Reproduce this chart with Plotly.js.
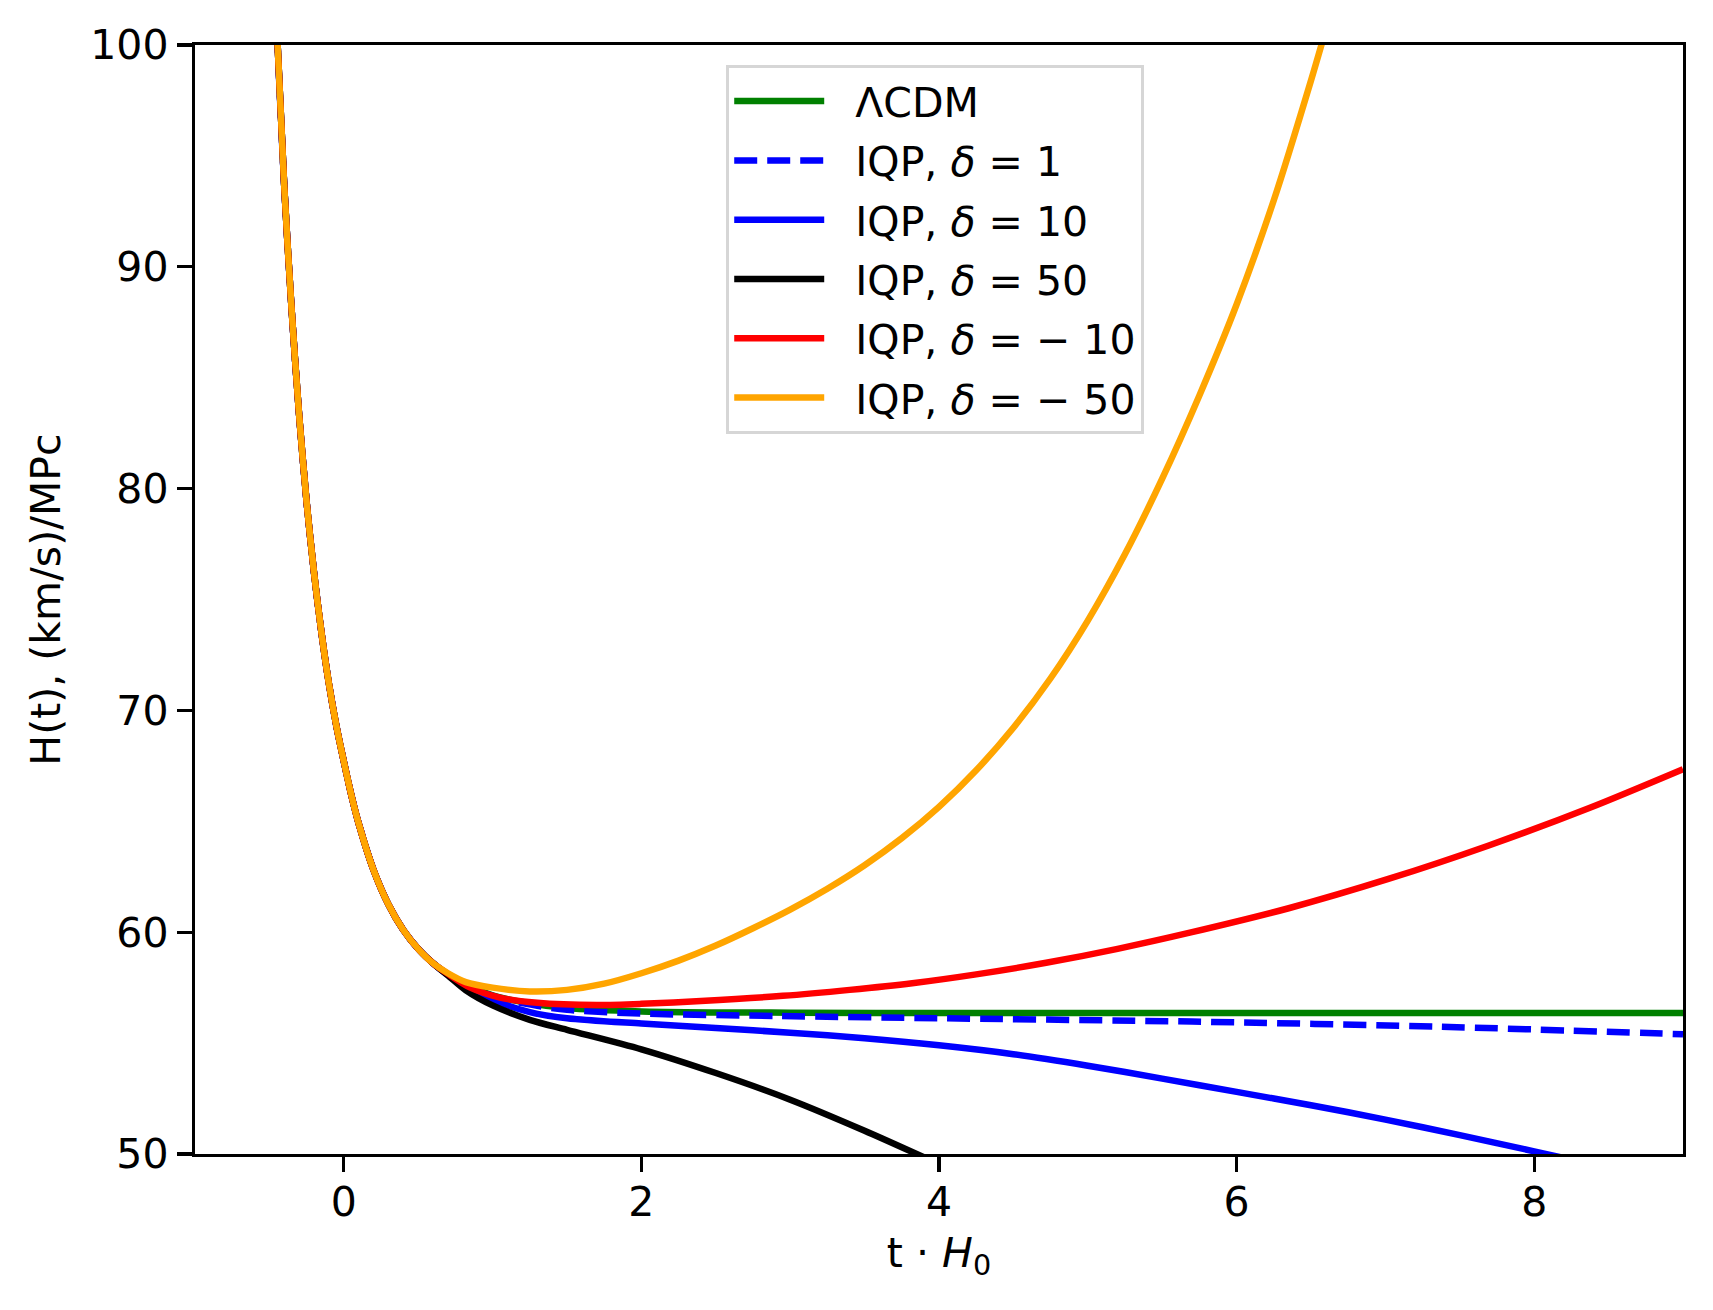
<!DOCTYPE html>
<html>
<head>
<meta charset="utf-8">
<script src="https://cdn.plot.ly/plotly-3.0.1.min.js"></script>
<style>
  body { margin: 0; background: white; }
  #plot { width: 1713px; height: 1310px; }
</style>
</head>
<body>
<div id="plot"></div>
<script>
// early common branch (all models overlap here)
const tEarly = [-0.46, -0.40, -0.35, -0.30, -0.25, -0.20, -0.15, -0.10, -0.05, 0.00, 0.05, 0.10, 0.20, 0.30, 0.40, 0.50, 0.60];
const hEarly = [102.2, 93.6, 88.0, 83.3, 79.4, 76.2, 73.5, 71.2, 69.3, 67.7, 66.2, 64.9, 62.8, 61.25, 60.1, 59.25, 58.6];

// late part of every curve
const tLcdm = [0.70, 0.80, 1.00, 1.20, 1.50, 2.00, 3.00, 4.00, 6.00, 9.00];
const hLcdm = [58.1, 57.7, 57.15, 56.85, 56.58, 56.43, 56.37, 56.36, 56.36, 56.36];

const tD1 = [0.70, 0.80, 1.00, 1.20, 1.50, 2.00, 2.93, 4.00, 5.70, 7.36, 9.00];
const hD1 = [58.1, 57.7, 57.13, 56.8, 56.5, 56.33, 56.22, 56.12, 55.97, 55.74, 55.4];

const tD10 = [0.70, 0.85, 1.00, 1.25, 1.50, 2.00, 2.50, 3.00, 3.50, 4.00, 4.50, 5.00, 5.50, 6.00, 6.50, 7.00, 7.50, 8.00, 8.20];
const hD10 = [58.08, 57.45, 56.95, 56.4, 56.12, 55.88, 55.68, 55.47, 55.22, 54.9, 54.5, 53.98, 53.4, 52.8, 52.2, 51.55, 50.85, 50.12, 49.82];

const tD50 = [0.70, 0.82, 1.00, 1.25, 1.50, 2.00, 2.50, 3.00, 3.50, 3.90];
const hD50 = [58.05, 57.38, 56.7, 56.05, 55.6, 54.72, 53.65, 52.45, 51.05, 49.85];

const tDm10 = [0.70, 0.85, 1.05, 1.30, 1.70, 2.00, 2.40, 2.95, 3.40, 3.82, 4.25, 4.72, 5.20, 5.70, 6.35, 7.02, 7.69, 8.37, 9.00];
const hDm10 = [58.12, 57.5, 57.05, 56.82, 56.72, 56.77, 56.9, 57.13, 57.4, 57.7, 58.1, 58.62, 59.25, 60.0, 61.08, 62.4, 63.9, 65.6, 67.35];

const tDm50 = [0.70, 0.82, 1.00, 1.25, 1.50, 1.75, 2.00, 2.25, 2.50, 2.75, 3.00, 3.25, 3.50, 3.75, 4.00, 4.25, 4.50, 4.75, 5.00, 5.25, 5.50, 5.75, 6.00, 6.25, 6.50, 6.60];
const hDm50 = [58.15, 57.75, 57.5, 57.33, 57.4, 57.68, 58.15, 58.72, 59.4, 60.18, 61.02, 61.96, 63.02, 64.24, 65.65, 67.3, 69.22, 71.45, 74.05, 77.05, 80.45, 84.2, 88.3, 93.0, 98.4, 100.7];

const gap = '\u00a0\u00a0';
const names = ['ΛCDM', 'IQP, <i>δ</i> = 1', 'IQP, <i>δ</i> = 10', 'IQP, <i>δ</i> = 50',
               'IQP, <i>δ</i> = − 10', 'IQP, <i>δ</i> = − 50'];
const colors = ['green', 'blue', 'blue', 'black', 'red', 'orange'];
const dashes = ['solid', '23px,10px', 'solid', 'solid', 'solid', 'solid'];
const tails = [[tLcdm, hLcdm], [tD1, hD1], [tD10, hD10], [tD50, hD50], [tDm10, hDm10], [tDm50, hDm50]];

const data = tails.map((tail, i) => ({
  x: tEarly.concat(tail[0]),
  y: hEarly.concat(tail[1]),
  type: 'scatter',
  mode: 'lines',
  name: gap + names[i],
  legendgroup: 'g' + i,
  line: {color: colors[i], width: 6.5, dash: dashes[i], shape: 'spline', smoothing: 0.8}
}));

const font = {family: 'DejaVu Sans', size: 41, color: 'black'};

const layout = {
  width: 1713,
  height: 1310,
  paper_bgcolor: 'white',
  plot_bgcolor: 'white',
  font: font,
  showlegend: true,
  margin: {l: 195, r: 30, t: 45, b: 156, pad: 0},
  xaxis: {
    range: [-1, 9],
    tickvals: [0, 2, 4, 6, 8],
    ticks: 'outside',
    ticklen: 15,
    tickwidth: 3.3,
    tickcolor: 'black',
    ticklabelstandoff: -6,
    showline: true,
    mirror: true,
    linecolor: 'black',
    linewidth: 3.3,
    showgrid: false,
    zeroline: false,
    tickfont: font,
    title: {text: 't · <i>H</i><sub>0</sub>', font: font, standoff: 14}
  },
  yaxis: {
    range: [50, 100],
    tickvals: [50, 60, 70, 80, 90, 100],
    ticks: 'outside',
    ticklen: 15,
    tickwidth: 3.3,
    tickcolor: 'black',
    showline: true,
    mirror: true,
    linecolor: 'black',
    linewidth: 3.3,
    showgrid: false,
    zeroline: false,
    tickfont: font,
    title: {text: 'H(t), (km/s)/MPc', font: font, standoff: 18}
  },
  legend: {
    x: 0.357,
    y: 0.982,
    xanchor: 'left',
    yanchor: 'top',
    bgcolor: 'white',
    bordercolor: '#d6d6d6',
    borderwidth: 3,
    font: font,
    itemwidth: 90,
    tracegroupgap: 3
  }
};

Plotly.newPlot('plot', data, layout, {displayModeBar: false, staticPlot: true});
</script>
</body>
</html>
